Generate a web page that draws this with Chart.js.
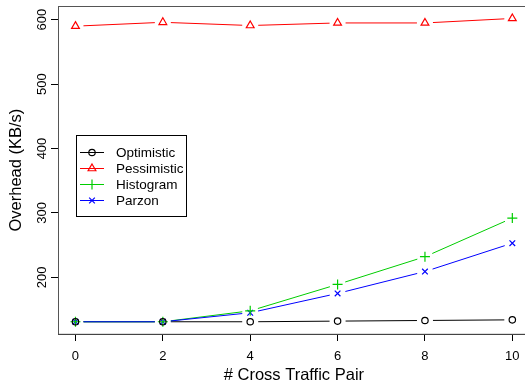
<!DOCTYPE html>
<html>
<head>
<meta charset="utf-8">
<script src="https://cdn.jsdelivr.net/npm/chart.js@4/dist/chart.umd.min.js"></script>
<style>
  html, body { margin: 0; padding: 0; background: #fff; overflow: hidden; }
  #wrap { width: 525px; height: 383px; overflow: hidden; }
</style>
</head>
<body>
<div id="wrap"><canvas id="overheadChart" width="536" height="383"></canvas></div>
<script>
const crossPairs = [0, 2, 4, 6, 8, 10];
const optimistic = [131, 131, 131, 132, 133, 134];
const pessimistic = [590, 596, 591, 595, 595, 602];
const histogram = [131, 131, 148, 189, 232, 292];
const parzon = [131, 131, 145, 175, 209, 253];

const xTicks = [0, 2, 4, 6, 8, 10];
const yTicks = [200, 300, 400, 500, 600];

const fontFamily = "'Liberation Sans', Arial, Helvetica, sans-serif";
const lineGap = 8; // "both" style: segments stop short of each marker

const series = (label, data, color, style, radius) => ({
  label: label,
  data: crossPairs.map((x, i) => ({ x: x, y: data[i] })),
  borderColor: color,
  borderWidth: 1,
  showLine: false,
  pointStyle: style,
  pointRadius: radius,
  pointBorderColor: color,
  pointBackgroundColor: "rgba(0,0,0,0)",
  pointBorderWidth: 1.2,
  fill: false,
});

// connecting segments with gaps around the points
const gappedLines = {
  id: "gappedLines",
  beforeDatasetsDraw(chart) {
    const ctx = chart.ctx;
    ctx.save();
    ctx.lineWidth = 1;
    chart.data.datasets.forEach((ds, i) => {
      const pts = chart.getDatasetMeta(i).data;
      ctx.strokeStyle = ds.borderColor;
      ctx.beginPath();
      for (let k = 1; k < pts.length; k++) {
        const a = pts[k - 1], b = pts[k];
        const dx = b.x - a.x, dy = b.y - a.y;
        const len = Math.hypot(dx, dy);
        if (len <= 2 * lineGap) continue;
        const ux = dx / len, uy = dy / len;
        ctx.moveTo(a.x + ux * lineGap, a.y + uy * lineGap);
        ctx.lineTo(b.x - ux * lineGap, b.y - uy * lineGap);
      }
      ctx.stroke();
    });
    ctx.restore();
  },
};

// box around the plot, rotated y tick labels and the legend
const plotDecor = {
  id: "plotDecor",
  afterDraw(chart) {
    const ctx = chart.ctx;
    const area = chart.chartArea;
    const y = chart.scales.y;

    ctx.save();
    ctx.strokeStyle = "#555";
    ctx.lineWidth = 1;
    ctx.strokeRect(Math.round(area.left) + 0.5, Math.round(area.top) + 0.5,
      area.right - area.left, area.bottom - area.top);

    ctx.fillStyle = "#000";
    ctx.font = "13px " + fontFamily;
    ctx.textAlign = "center";
    ctx.textBaseline = "middle";
    y.ticks.forEach((t) => {
      ctx.save();
      ctx.translate(42, y.getPixelForValue(t.value));
      ctx.rotate(-Math.PI / 2);
      ctx.fillText(String(t.value), 0, 0);
      ctx.restore();
    });

    // legend
    const bx = 76.5, by = 135.5, bw = 110, bh = 81;
    ctx.strokeStyle = "#000";
    ctx.strokeRect(bx, by, bw, bh);
    ctx.textAlign = "left";
    ctx.font = "13.5px " + fontFamily;
    chart.data.datasets.forEach((ds, i) => {
      const ry = 152.5 + i * 16;
      ctx.strokeStyle = ds.borderColor;
      ctx.lineWidth = 1;
      ctx.beginPath();
      ctx.moveTo(80, ry);
      ctx.lineTo(104, ry);
      ctx.stroke();
      ctx.fillStyle = "rgba(0,0,0,0)";
      ctx.lineWidth = 1.2;
      Chart.helpers.drawPoint(ctx, {
        pointStyle: ds.pointStyle,
        radius: ds.pointRadius,
        borderWidth: 1.2,
      }, 92, ry);
      ctx.fillStyle = "#000";
      ctx.fillText(ds.label, 116, ry + 0.5);
    });
    ctx.restore();
  },
};

new Chart(document.getElementById("overheadChart"), {
  type: "line",
  data: {
    datasets: [
      series("Optimistic", optimistic, "#000000", "circle", 3.2),
      series("Pessimistic", pessimistic, "#ff0000", "triangle", 4.5),
      series("Histogram", histogram, "#00cd00", "cross", 5),
      series("Parzon", parzon, "#0000ff", "crossRot", 4),
    ],
  },
  options: {
    responsive: false,
    animation: false,
    layout: { padding: { top: 6, right: 1, left: 0, bottom: 0 } },
    plugins: { legend: { display: false }, tooltip: { enabled: false } },
    scales: {
      x: {
        type: "linear",
        min: -0.4,
        max: 10.4,
        afterBuildTicks: (scale) => {
          scale.ticks = xTicks.map((v) => ({ value: v }));
        },
        afterFit: (scale) => {
          scale.height = 49;
          scale.paddingLeft = 0;
          scale.paddingRight = 0;
        },
        grid: { drawOnChartArea: false, tickLength: 7, color: "#000" },
        border: { display: true, color: "#000", width: 1 },
        ticks: {
          color: "#000",
          padding: 8,
          maxRotation: 0,
          font: { family: fontFamily, size: 13 },
        },
        title: {
          display: true,
          text: "# Cross Traffic Pair",
          color: "#000",
          padding: 0,
          font: { family: fontFamily, size: 16.5, lineHeight: 0.9 },
        },
      },
      y: {
        type: "linear",
        min: 112,
        max: 621,
        afterBuildTicks: (scale) => {
          scale.ticks = yTicks.map((v) => ({ value: v }));
        },
        afterFit: (scale) => {
          scale.width = 58;
          scale.paddingTop = 0;
          scale.paddingBottom = 0;
        },
        grid: { drawOnChartArea: false, tickLength: 7, color: "#000" },
        border: { display: true, color: "#000", width: 1 },
        ticks: { display: false },
        title: {
          display: true,
          text: "Overhead (KB/s)",
          color: "#000",
          padding: { top: 7, bottom: 0 },
          font: { family: fontFamily, size: 16.5, lineHeight: 1.1 },
        },
      },
    },
  },
  plugins: [gappedLines, plotDecor],
});
</script>
</body>
</html>
